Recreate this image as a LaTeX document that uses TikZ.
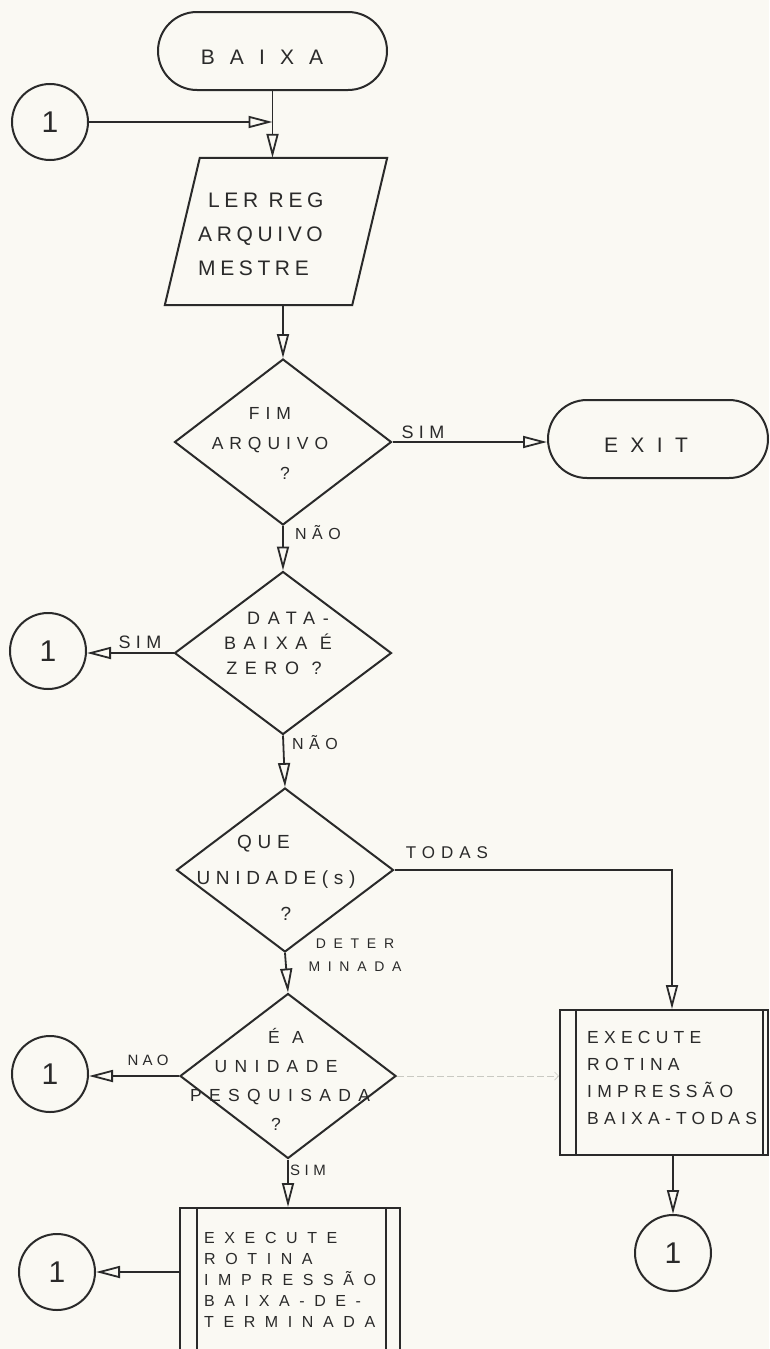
\documentclass[tikz,border=0pt]{standalone}
\usepackage{fontspec}
\setmainfont{Liberation Sans}
\usetikzlibrary{shapes.geometric,shapes.misc,arrows.meta}

\definecolor{ink}{HTML}{2A2A2A}
\definecolor{paper}{HTML}{FAF9F3}
\definecolor{ghost}{HTML}{C9C9C2}

% size, line spacing, letter spacing
\newcommand\txt[3]{\fontsize{#1}{#2}\selectfont\addfontfeatures{LetterSpace=#3}}

\begin{document}
\begin{tikzpicture}[x=1pt, y=-1pt,
  outline/.style={draw=ink, line width=2pt},
  term/.style={outline, rounded rectangle, rounded rectangle arc length=180, inner sep=0pt, minimum height=78pt},
  dec/.style={outline, diamond, inner sep=0pt},
  conn/.style={outline, circle, minimum size=76pt, inner sep=0pt, text=ink, font=\txt{30}{32}{0}},
  proc/.style={outline, rectangle, inner sep=0pt},
  flow/.style={draw=ink, line width=1.8pt, -{Triangle[open, length=24pt, width=12pt]}},
  lbl/.style={text=ink, inner sep=0pt},
]
\useasboundingbox (0,0) rectangle (769,1349);
\fill[paper] (0,0) rectangle (769,1349);
\clip (0,0) rectangle (769,1349);

% ---- start ----
\node[term, minimum width=229pt] (baixa) at (272.5,51) {};
\node[lbl, font=\txt{21}{24}{72}] (baixat) at (262,57) {BAIXA};
\node[conn] (c0) at (50,122) {1};

% input/output parallelogram: frame node, slanted outline drawn from its corners
\node[inner sep=0pt, minimum width=187pt, minimum height=147pt] (par) at (276,231.5) {};
\draw[outline] ([xshift=17.5pt]par.north west) -- ([xshift=17.5pt]par.north east)
      -- ([xshift=-17.5pt]par.south east) -- ([xshift=-17.5pt]par.south west) -- cycle;
\node[lbl, anchor=west, align=left, font=\txt{21}{34}{22}] (part) at (198,234) {\hspace*{10pt}LER REG\\ARQUIVO\\MESTRE};

% ---- end-of-file test ----
\node[dec, minimum width=217pt, minimum height=166pt] (d1) at (283,442) {};
\node[lbl, align=center, font=\txt{17.5}{30}{34}] (d1t) at (270,443) {FIM\\ARQUIVO\\\hspace*{30pt}?};
\node[term, minimum width=220pt] (exit) at (658,439) {};
\node[lbl, font=\txt{21}{24}{59}] (exitt) at (646,445) {EXIT};

% ---- zero date test ----
\node[dec, minimum width=217pt, minimum height=163pt] (d2) at (283,653) {};
\node[lbl, align=center, font=\txt{18}{25}{42}] (d2t) at (278,643) {\hspace*{20pt}DATA-\\BAIXA É\\ZERO ?\hspace*{8pt}};
\node[conn] (c1) at (48,651) {1};

% ---- which unit ----
\node[dec, minimum width=217pt, minimum height=164pt] (d3) at (285,870) {};
\node[lbl, align=center, font=\txt{19}{36}{30}] (d3t) at (276,878) {QUE\hspace*{25pt}\\UNIDADE(s)\\\hspace*{20pt}?};

% ---- searched unit test ----
\node[dec, minimum width=216pt, minimum height=165pt] (d4) at (288,1076) {};
\node[lbl, align=center, font=\txt{17.5}{29}{42}] (d4t) at (276,1079) {\hspace*{20pt}É A\\UNIDADE\hspace*{20pt}\\\hspace*{8pt}PESQUISADA\\?};
\node[conn] (c2) at (50,1074) {1};

% ---- print routines ----
\node[proc, minimum width=208pt, minimum height=145pt] (box1) at (664,1082.5) {};
\draw[ink, line width=1.6pt] ([xshift=17pt]box1.north west) -- ([xshift=17pt]box1.south west)
      ([xshift=-6pt]box1.north east) -- ([xshift=-6pt]box1.south east);
\node[lbl, anchor=west, align=left, font=\txt{17.5}{27}{30}] (box1t) at (587,1078)
      {EXECUTE\\ROTINA\\IMPRESSÃO\\BAIXA-TODAS};
\node[conn] (c4) at (673,1253) {1};

\node[proc, minimum width=220pt, minimum height=154pt] (box2) at (290,1285) {};
\draw[ink, line width=1.6pt] ([xshift=18pt]box2.north west) -- ([xshift=18pt]box2.south west)
      ([xshift=-15pt]box2.north east) -- ([xshift=-15pt]box2.south east);
\node[lbl, anchor=west, align=left, font=\txt{16}{21}{60}] (box2t) at (204,1280)
      {EXECUTE\\ROTINA\\IMPRESSÃO\\BAIXA-DE-\\TERMINADA};
\node[conn] (c3) at (57,1272) {1};

% ---- connectors ----
\draw[flow] (c0.east) -- (c0.east -| baixa.south);
\draw[flow] (baixa.south) -- (baixa.south |- par.north);
\draw[flow] (d1.north |- par.south) -- (d1.north);
\draw[flow] (d1.east) -- (d1.east -| exit.west);
\draw[flow] (d1.south) -- (d2.north);
\draw[flow] (d2.west) -- (d2.west -| c1.east);
\draw[flow] (d2.south) -- (d3.north);
\draw[flow] (d3.east) -| ([xshift=8pt]box1.north);
\draw[flow] (d3.south) -- (d4.north);
\draw[flow] (d4.west) -- (d4.west -| c2.east);
\draw[flow] (d4.south) -- (d4.south |- box2.north);
\draw[flow] (box2.west |- c3.east) -- (c3.east);
\draw[flow] (c4.north |- box1.south) -- (c4.north);
\draw[ghost, line width=0.7pt, dash pattern=on 7pt off 3pt, -{Straight Barb[length=4pt]}] (d4.east) -- (d4.east -| box1.west);

% ---- branch labels ----
\node[lbl, font=\txt{18}{20}{30}] (l1) at (423,432) {SIM};
\node[lbl, font=\txt{16}{18}{35}] (l2) at (318,533) {NÃO};
\node[lbl, font=\txt{18}{20}{30}] (l3) at (140,642) {SIM};
\node[lbl, font=\txt{16}{18}{35}] (l4) at (315,743) {NÃO};
\node[lbl, font=\txt{17}{20}{35}] (l5) at (447,853) {TODAS};
\node[lbl, align=center, font=\txt{14}{23}{55}] (l6) at (355,955) {DETER\\MINADA};
\node[lbl, font=\txt{15}{18}{28}] (l7) at (148,1060) {NAO};
\node[lbl, font=\txt{15}{18}{30}] (l8) at (308,1170) {SIM};
\end{tikzpicture}
\end{document}
